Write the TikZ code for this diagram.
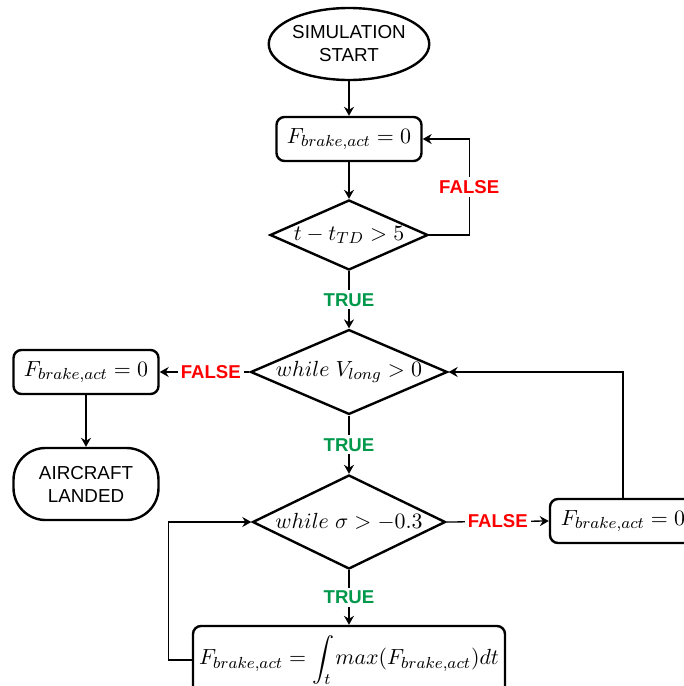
\documentclass[tikz,border=0pt]{standalone}
\usepackage{fontspec}
\setmainfont{Liberation Sans}
\usepackage{amsmath, amssymb}
\usetikzlibrary{shapes.geometric, arrows.meta}

\definecolor{falsered}{RGB}{255,0,0}
\definecolor{truegreen}{RGB}{0,153,76}

\begin{document}
\begin{tikzpicture}[x = 0.5pt, y = -0.5pt,
  >= {Stealth[length = 4.5pt, width = 5pt, inset = 1.5pt]},
  box/.style = {draw, line width = 1.2pt, rounded corners = 4pt, inner sep = 0pt,
    minimum width = 72.5pt, minimum height = 22pt, font = \fontsize{11}{13}\selectfont},
  test/.style = {draw, diamond, line width = 1.2pt, inner sep = 0pt,
    font = \fontsize{11}{13}\selectfont},
  term/.style = {draw, line width = 1.2pt, inner sep = 0pt, align = center,
    minimum width = 72.5pt, minimum height = 36pt, font = \fontsize{9.4}{11.5}\selectfont},
  yes/.style = {fill = white, inner sep = 1.5pt, text = truegreen, font = \fontsize{9.3}{11}\selectfont\bfseries},
  no/.style = {fill = white, inner sep = 1.5pt, text = falsered, font = \fontsize{9.3}{11}\selectfont\bfseries},
  flow/.style = {->, line width = 0.65pt}]

\useasboundingbox (0, 0) rectangle (684, 686);

\node[term, ellipse, minimum width = 73pt] (start) at (349, 44) {SIMULATION\\START};
\node[box] (init) at (349, 139) {$F_{brake,act} = 0$};
\node[test, minimum width = 79pt, minimum height = 35pt, aspect = 2.26] (touch) at (349, 235) {$t - t_{TD} > 5$};
\node[test, minimum width = 97.5pt, minimum height = 42pt, aspect = 2.32] (speed) at (349, 372) {$while\ V_{long} > 0$};
\node[box] (stop) at (86, 372) {$F_{brake,act} = 0$};
\node[term, rounded corners = 16pt] (landed) at (86, 484) {AIRCRAFT\\LANDED};
\node[test, minimum width = 96.5pt, minimum height = 47pt, aspect = 2.05] (slip) at (349, 522) {$while\ \sigma > -0.3$};
\node[box, minimum width = 73pt] (release) at (623, 521) {$F_{brake,act} = 0$};
\node[box, minimum width = 156pt, minimum height = 34pt] (brake) at (349, 660)
  {$\displaystyle F_{brake,act} = \int_t max(F_{brake,act})dt$};

\draw[flow] (start) -- (init);
\draw[flow] (init) -- (touch);
\draw[flow] (touch.east) -- ++(40, 0) |- node[no, pos = 0.25] {FALSE} (init.east);
\draw[flow] (touch) -- node[yes] {TRUE} (speed);
\draw[flow] (speed.west) -- node[no, pos = 0.43] {FALSE} (stop.east);
\draw[flow] (stop) -- (landed);
\draw[flow] (speed) -- node[yes] {TRUE} (slip);
\draw[flow] (slip.east) -- node[no] {FALSE} (release.west);
\draw[flow] (release.north) |- (speed.east);
\draw[flow] (slip) -- node[yes] {TRUE} (brake);
\draw[flow] (brake.west) -- ++(-23, 0) |- (slip.west);

\end{tikzpicture}
\end{document}
